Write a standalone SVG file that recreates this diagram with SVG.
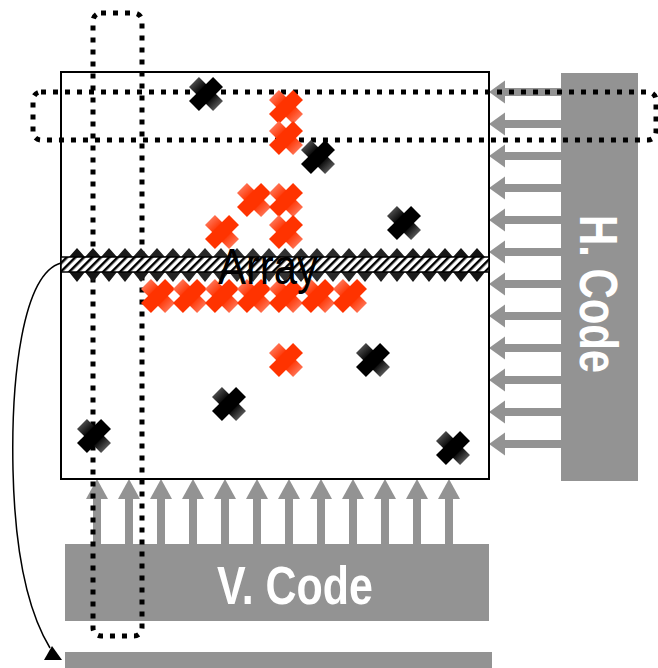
<svg xmlns="http://www.w3.org/2000/svg" xmlns:xlink="http://www.w3.org/1999/xlink" width="658" height="668" viewBox="0 0 658 668">
<style>
.gray{fill:#939393}
.lbl{font-family:"Liberation Sans",Arial,sans-serif;font-weight:bold;fill:#fff}
.dots{fill:none;stroke:#000;stroke-width:5;stroke-dasharray:5 7}
</style>
<defs>
<linearGradient id="rg" x1="0" y1="0" x2="1" y2="0">
<stop offset="0" stop-color="#ff7050"/><stop offset="0.35" stop-color="#ff3300"/><stop offset="0.65" stop-color="#ff3300"/><stop offset="1" stop-color="#ff7050"/>
</linearGradient>
<linearGradient id="kg" x1="0" y1="0" x2="1" y2="0">
<stop offset="0" stop-color="#4a4a4a"/><stop offset="0.35" stop-color="#000"/><stop offset="0.65" stop-color="#000"/><stop offset="1" stop-color="#555"/>
</linearGradient>
<linearGradient id="zg" x1="0" y1="0" x2="1" y2="0">
<stop offset="0" stop-color="#111"/><stop offset="0.5" stop-color="#333"/><stop offset="1" stop-color="#111"/>
</linearGradient>
<g id="rx">
<rect x="-17" y="-7" width="34" height="14" fill="url(#rg)" transform="rotate(45)"/>
<rect x="-17" y="-7" width="34" height="14" fill="#ff3300" transform="rotate(-45)"/>
</g>
<g id="kx">
<rect x="-17" y="-7" width="34" height="14" fill="url(#kg)" transform="rotate(45)"/>
<rect x="-17" y="-7" width="34" height="14" fill="#000" transform="rotate(-45)"/>
</g>
<g id="va" class="gray"><polygon points="0,0 -11,20 11,20"/><rect x="-4" y="19" width="8" height="46"/></g>
<g id="ha" class="gray"><polygon points="0,0 16,-11.5 16,11.5"/><rect x="15" y="-4" width="57" height="8"/></g>
<pattern id="hatch" width="6" height="6" patternUnits="userSpaceOnUse" patternTransform="rotate(45)">
<rect width="6" height="6" fill="#fff"/><rect width="2.5" height="6" fill="#000"/>
</pattern>
</defs>

<g id="hcode">
<rect class="gray" x="561" y="73" width="77" height="408"/>
<text class="lbl" transform="translate(580,215) rotate(90)" font-size="54" textLength="158" lengthAdjust="spacingAndGlyphs">H. Code</text>
</g>
<g id="vcode">
<rect class="gray" x="65" y="544" width="424" height="77"/>
<text class="lbl" x="217" y="604" font-size="54" textLength="156" lengthAdjust="spacingAndGlyphs">V. Code</text>
</g>
<g id="output-bar">
<rect class="gray" x="65" y="652" width="427" height="20"/>
</g>

<g id="connectors">
<use href="#va" x="97" y="479"/><use href="#va" x="129" y="479"/><use href="#va" x="161" y="479"/><use href="#va" x="193" y="479"/>
<use href="#va" x="225" y="479"/><use href="#va" x="257" y="479"/><use href="#va" x="289" y="479"/><use href="#va" x="321" y="479"/>
<use href="#va" x="353" y="479"/><use href="#va" x="385" y="479"/><use href="#va" x="417" y="479"/><use href="#va" x="449" y="479"/>
<use href="#ha" x="489" y="92"/><use href="#ha" x="489" y="124"/><use href="#ha" x="489" y="156"/><use href="#ha" x="489" y="188"/>
<use href="#ha" x="489" y="220"/><use href="#ha" x="489" y="252"/><use href="#ha" x="489" y="284"/><use href="#ha" x="489" y="316"/>
<use href="#ha" x="489" y="348"/><use href="#ha" x="489" y="380"/><use href="#ha" x="489" y="412"/><use href="#ha" x="489" y="444"/>
<path d="M61,263 C22,274 11,380 13,470 C15,560 30,615 50,648" fill="none" stroke="#000" stroke-width="1.5"/>
<polygon points="44,660 62,660 52,646" fill="#000"/>
</g>

<g id="array">
<rect x="61" y="72" width="428" height="407" fill="#fff" stroke="#000" stroke-width="2"/>
</g>

<g id="selections">
<rect class="dots" x="93" y="13" width="49" height="623" rx="8"/>
<rect class="dots" x="33" y="92" width="623" height="48" rx="8"/>
</g>

<g id="scan-row">
<polygon fill="url(#zg)" points="61,257 69,257 77,248 85,257 93,248 101,257 109,248 117,257 125,248 133,257 141,248 149,257 157,248 165,257 173,248 181,257 189,248 197,257 205,248 213,257 221,248 229,257 237,248 245,257 253,248 261,257 269,248 277,257 285,248 293,257 301,248 309,257 317,248 325,257 333,248 341,257 349,248 357,257 365,248 373,257 381,248 389,257 397,248 405,257 413,248 421,257 429,248 437,257 445,248 453,257 461,248 469,257 477,248 485,257 489,257"/>
<polygon fill="url(#zg)" points="61,272 69,272 77,282 85,272 93,282 101,272 109,282 117,272 125,282 133,272 141,282 149,272 157,282 165,272 173,282 181,272 189,282 197,272 205,282 213,272 221,282 229,272 237,282 245,272 253,282 261,272 269,282 277,272 285,282 293,272 301,282 309,272 317,282 325,272 333,282 341,272 349,282 357,272 365,282 373,272 381,282 389,272 397,282 405,272 413,282 421,272 429,282 437,272 445,282 453,272 461,282 469,272 477,282 485,272 489,272"/>
<rect x="61" y="257" width="428" height="15" fill="url(#hatch)" stroke="#000" stroke-width="1.5"/>
</g>

<g id="defects-red">
<use href="#rx" x="286" y="107"/><use href="#rx" x="286" y="138"/>
<use href="#rx" x="254" y="200"/><use href="#rx" x="286" y="200"/>
<use href="#rx" x="222" y="232"/><use href="#rx" x="286" y="232"/>
<use href="#rx" x="158" y="296"/><use href="#rx" x="190" y="296"/><use href="#rx" x="222" y="296"/><use href="#rx" x="254" y="296"/>
<use href="#rx" x="286" y="296"/><use href="#rx" x="318" y="296"/><use href="#rx" x="350" y="296"/>
<use href="#rx" x="286" y="360"/>
</g>
<g id="defects-black">
<use href="#kx" x="206" y="94"/><use href="#kx" x="318" y="157"/><use href="#kx" x="404" y="223"/>
<use href="#kx" x="373" y="360"/><use href="#kx" x="229" y="404"/><use href="#kx" x="94" y="436"/><use href="#kx" x="453" y="448"/>
</g>

<g id="array-label">
<text x="218" y="284" font-family="Liberation Sans, Arial, sans-serif" font-size="50" fill="#000" textLength="100" lengthAdjust="spacingAndGlyphs">Array</text>
</g>
</svg>
